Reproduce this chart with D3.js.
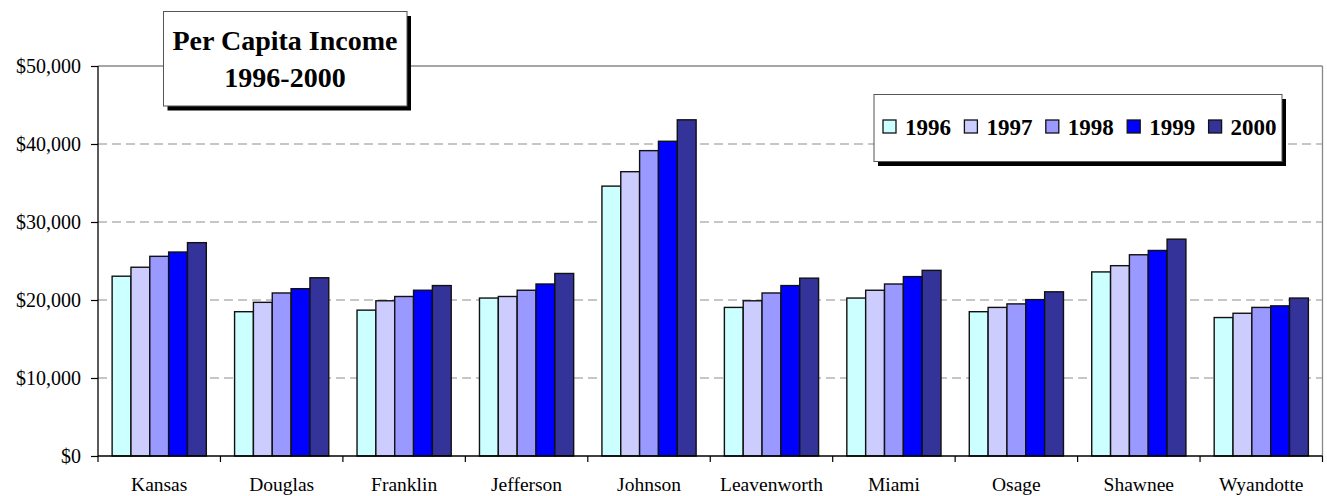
<!DOCTYPE html>
<html><head><meta charset="utf-8">
<script src="https://cdn.jsdelivr.net/npm/d3@7"></script>
<style>body{margin:0;background:#fff}svg{display:block}</style>
</head><body><svg id="c" width="1327" height="496"></svg>
<script>
const categories = ["Kansas","Douglas","Franklin","Jefferson","Johnson","Leavenworth","Miami","Osage","Shawnee","Wyandotte"];
const years = ["1996","1997","1998","1999","2000"];
const v1996 = [23050,18500,18700,20250,34600,19050,20250,18500,23600,17750];
const v1997 = [24200,19700,19900,20450,36450,19900,21250,19050,24400,18300];
const v1998 = [25600,20900,20450,21250,39150,20900,22050,19500,25800,19050];
const v1999 = [26150,21450,21250,22050,40350,21850,23000,20050,26350,19250];
const v2000 = [27350,22850,21850,23400,43100,22800,23800,21050,27800,20250];
const series = [v1996,v1997,v1998,v1999,v2000];
const colors = ["#CCFFFF","#CCCCFF","#9999FF","#0000FF","#333399"];
const yTicks = [0,10000,20000,30000,40000,50000];
const titleLines = ["Per Capita Income","1996-2000"];

const svg = d3.select("#c");
const L=98, R=1322.5, T=66, B=456;
const x0 = d3.scaleBand().domain(categories).range([L,R]).padding(0);
const x1 = d3.scaleBand().domain(years).range([0,x0.bandwidth()]).paddingInner(0).paddingOuter(0.75);
const y = d3.scaleLinear().domain([0,50000]).range([B,T]);
const fmt = d3.format("$,");
const serif = "'Liberation Serif','Times New Roman',serif";

// gridlines
svg.append("g").selectAll("line").data(yTicks.filter(d=>d>0&&d<50000)).join("line")
  .attr("x1",L).attr("x2",R).attr("y1",d=>y(d)).attr("y2",d=>y(d))
  .attr("stroke","#b4b4b4").attr("stroke-width",1.3).attr("stroke-dasharray","9,5");
// top & right border
svg.append("line").attr("x1",L).attr("x2",R).attr("y1",y(50000)).attr("y2",y(50000)).attr("stroke","#888").attr("stroke-width",1.3);
svg.append("line").attr("x1",R).attr("x2",R).attr("y1",T).attr("y2",B).attr("stroke","#888").attr("stroke-width",1.3);

// bars
const g = svg.append("g");
categories.forEach((c,i)=>{
  years.forEach((yr,j)=>{
    g.append("rect").attr("x",x0(c)+x1(yr)).attr("width",x1.bandwidth())
      .attr("y",y(series[j][i])).attr("height",B-y(series[j][i]))
      .attr("fill",colors[j]).attr("stroke","#111").attr("stroke-width",1.4);
  });
});

// y axis
const ya = svg.append("g").attr("transform",`translate(${L},0)`)
  .call(d3.axisLeft(y).tickValues(yTicks).tickFormat(fmt).tickSize(7).tickPadding(10));
ya.select(".domain").attr("stroke","#000").attr("stroke-width",1.3).attr("d",`M0,${T}V${B}`);
ya.selectAll(".tick line").attr("stroke","#000").attr("stroke-width",1.2);
ya.selectAll("text").attr("font-family",serif).attr("font-size",20).attr("fill","#000").attr("dy","0.33em");

// x axis
svg.append("line").attr("x1",L).attr("x2",R).attr("y1",B).attr("y2",B).attr("stroke","#000").attr("stroke-width",1.3);
const bounds = categories.map(c=>x0(c)).concat([R]);
svg.append("g").selectAll("line").data(bounds).join("line")
  .attr("x1",d=>d).attr("x2",d=>d).attr("y1",B).attr("y2",B+6).attr("stroke","#000").attr("stroke-width",1.2);
svg.append("g").selectAll("text").data(categories).join("text")
  .attr("x",d=>x0(d)+x0.bandwidth()/2).attr("y",491).attr("text-anchor","middle")
  .attr("font-family",serif).attr("font-size",19.5).attr("fill","#000").text(d=>d);

// title box
const tb = svg.append("g");
tb.append("rect").attr("x",167.5).attr("y",16).attr("width",243.5).attr("height",94.5).attr("fill","#000");
tb.append("rect").attr("x",163.5).attr("y",11.5).attr("width",243.5).attr("height",94.5).attr("fill","#fff").attr("stroke","#555").attr("stroke-width",1);
tb.selectAll("text").data(titleLines).join("text")
  .attr("x",285).attr("y",(d,i)=>50+i*37).attr("text-anchor","middle")
  .attr("font-family",serif).attr("font-weight","bold").attr("font-size",28).attr("fill","#000").text(d=>d);

// legend
const lg = svg.append("g");
lg.append("rect").attr("x",878).attr("y",99).attr("width",408).attr("height",67).attr("fill","#000");
lg.append("rect").attr("x",874).attr("y",94.5).attr("width",408).attr("height",67).attr("fill","#fff").attr("stroke","#555").attr("stroke-width",1);
years.forEach((yr,j)=>{
  const lx = 883 + j*81.4;
  lg.append("rect").attr("x",lx).attr("y",120).attr("width",13).attr("height",13)
    .attr("fill",colors[j]).attr("stroke","#111").attr("stroke-width",1.3);
  lg.append("text").attr("x",lx+22).attr("y",134.5).attr("font-family",serif)
    .attr("font-weight","bold").attr("font-size",23).attr("fill","#000").text(yr);
});
</script></body></html>
